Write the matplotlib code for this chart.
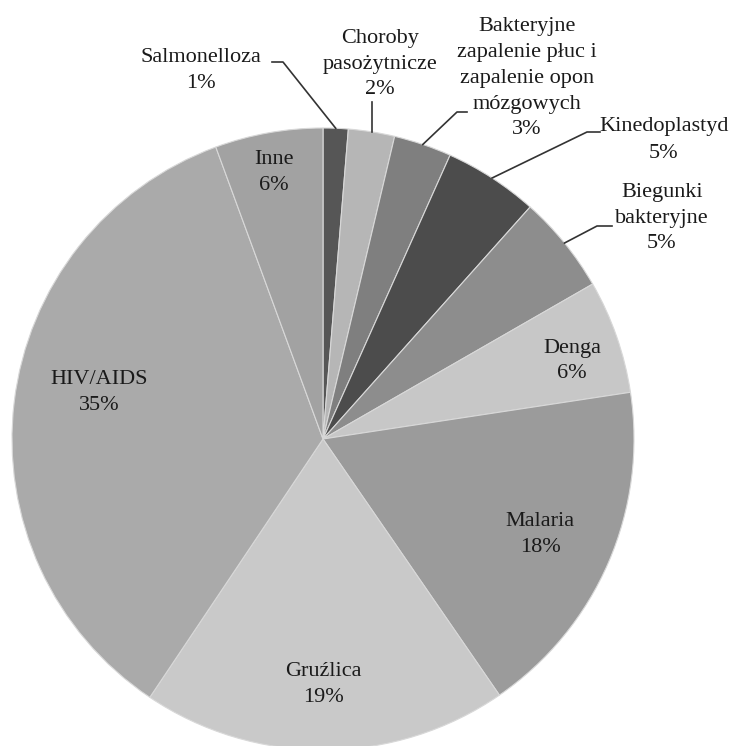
import numpy as np
import matplotlib
matplotlib.use("Agg")
import matplotlib.pyplot as plt

# ---- data ----
categories = ["Salmonelloza", "Choroby\npasożytnicze",
              "Bakteryjne\nzapalenie płuc i\nzapalenie opon\nmózgowych",
              "Kinedoplastyd", "Biegunki\nbakteryjne", "Denga", "Malaria",
              "Gruźlica", "HIV/AIDS", "Inne"]
values = [1.3, 2.4, 3.0, 4.9, 5.1, 5.9, 17.8, 19.0, 35.0, 5.6]
pct_labels = ["1%", "2%", "3%", "5%", "5%", "6%", "18%", "19%", "35%", "6%"]
colors = ["#565656", "#b6b6b6", "#7f7f7f", "#4c4c4c", "#8d8d8d",
          "#c7c7c7", "#9b9b9b", "#c9c9c9", "#aaaaaa", "#a2a2a2"]

# ---- layout (pixels in 739x746 canvas) ----
W, H = 739, 746
CX, CY, R = 323, 439, 311

def to_data(px, py):
    return (px - CX) / R, (CY - py) / R

# label centers (pixels)
label_pos = [(201, 71), (380, 64), (527, 78), (664, 140), (662, 218),
             (572, 361), (540, 534), (323, 684), (99, 392), (274, 173)]
# leader elbow segments (pixels) for outside labels: (x_text_side, x_elbow, y)
leaders = {0: (272, 283, 62), 1: None, 2: (467, 457, 112),
           3: (600, 587, 132), 4: (612, 597, 226)}

plt.rcParams['font.family'] = ['Liberation Serif', 'DejaVu Serif']

fig = plt.figure(figsize=(W / 100, H / 100), dpi=100)
ax = fig.add_axes([0, 0, 1, 1])
wedges, _ = ax.pie(values, colors=colors, startangle=90, counterclock=False,
                   radius=1.0,
                   wedgeprops=dict(edgecolor="#d8d8d8", linewidth=0.8))

ax.set_xlim(-CX / R, (W - CX) / R)
ax.set_ylim(-(H - CY) / R, CY / R)
ax.set_aspect("equal", adjustable="box")
ax.axis("off")

total = sum(values)
cum = np.cumsum([0] + values[:-1])
for i, (cat, pct) in enumerate(zip(categories, pct_labels)):
    x, y = to_data(*label_pos[i])
    ax.text(x, y, f"{cat}\n{pct}", ha="center", va="center", fontsize=16,
            linespacing=1.5, color="#1a1a1a")
    if i in leaders:
        mid = (cum[i] + values[i] / 2) / total * 360
        theta = np.deg2rad(90 - mid)
        ex, ey = np.cos(theta), np.sin(theta)
        if leaders[i] is None:
            # vertical leader from text to edge
            tx, ty = to_data(label_pos[i][0] - 6, 102)
            ax.plot([ex, ex], [ty, ey], color="#333333", lw=1.2)
        else:
            xt, xe, yy = leaders[i]
            x1, y1 = to_data(xt, yy)
            x2, y2 = to_data(xe, yy)
            ax.plot([x1, x2, ex], [y1, y2, ey], color="#333333", lw=1.2)

fig.savefig("out.png", dpi=100, facecolor="white")
